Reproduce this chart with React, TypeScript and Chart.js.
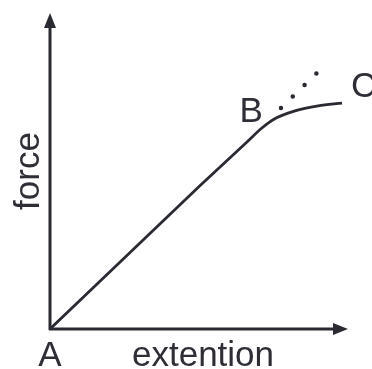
import React, { useEffect, useRef } from "react";
import { Chart, registerables } from "chart.js";

Chart.register(...registerables);

// force–extension curve (arbitrary units, 0–100 on each axis)
const extension = [0, 50.3, 66.1, 71.1, 75.0, 82.2, 90.0, 98.0];
const force = [0, 45.3, 59.2, 63.6, 66.3, 69.0, 70.6, 71.5];
// dotted continuation of the proportional (Hooke's law) region beyond B
const dottedExtension = [77.5, 89.9];
const dottedForce = [69.9, 81.3];
const pointLabels = ["A", "B", "C"];
const xTitle = "extention";
const yTitle = "force";

const INK = "#2a2a33";
const FONT = "'Liberation Sans', Arial, sans-serif";

const diagramPlugin = {
  id: "diagram",
  afterDatasetsDraw(chart: any) {
    const { ctx } = chart;
    const xs = chart.scales.x;
    const ys = chart.scales.y;
    const ox = xs.getPixelForValue(0);
    const oy = ys.getPixelForValue(0);
    const xEnd = xs.getPixelForValue(xs.max);
    const yEnd = ys.getPixelForValue(ys.max);
    ctx.save();
    ctx.strokeStyle = INK;
    ctx.fillStyle = INK;
    ctx.lineWidth = 3;
    ctx.lineCap = "butt";
    // axes
    ctx.beginPath();
    ctx.moveTo(ox, oy + 1);
    ctx.lineTo(ox, yEnd + 8);
    ctx.moveTo(ox - 1, oy);
    ctx.lineTo(xEnd - 8, oy);
    ctx.stroke();
    // arrow heads
    ctx.beginPath();
    ctx.moveTo(xEnd, oy);
    ctx.lineTo(xEnd - 15, oy - 6);
    ctx.lineTo(xEnd - 15, oy + 6);
    ctx.closePath();
    ctx.fill();
    ctx.beginPath();
    ctx.moveTo(ox, yEnd);
    ctx.lineTo(ox - 6, yEnd + 15);
    ctx.lineTo(ox + 6, yEnd + 15);
    ctx.closePath();
    ctx.fill();

    // text
    ctx.font = `35px ${FONT}`;
    ctx.textBaseline = "alphabetic";
    ctx.fillStyle = "#2e2e36";
    // A at origin
    ctx.textAlign = "center";
    ctx.fillText(pointLabels[0], ox, oy + 37);
    // x title
    ctx.fillText(xTitle, (ox + xEnd) / 2 + 4, oy + 37);
    // B at knee
    const bx = xs.getPixelForValue(extension[3]);
    const by = ys.getPixelForValue(force[3]);
    ctx.textAlign = "right";
    ctx.fillText(pointLabels[1], bx + 1, by - 6);
    // C at end
    const last = extension.length - 1;
    const cx = xs.getPixelForValue(extension[last]);
    const cy = ys.getPixelForValue(force[last]);
    ctx.textAlign = "left";
    ctx.fillText(pointLabels[2], cx + 9, cy - 6);
    // y title
    ctx.save();
    ctx.translate(ox - 11, (oy + yEnd) / 2);
    ctx.rotate(-Math.PI / 2);
    ctx.textAlign = "center";
    ctx.fillText(yTitle, 0, 0);
    ctx.restore();
    ctx.restore();
  },
};

export default function App() {
  const ref = useRef<HTMLCanvasElement | null>(null);
  useEffect(() => {
    if (!ref.current) return;
    const chart = new Chart(ref.current, {
      type: "scatter",
      data: {
        datasets: [
          {
            data: extension.map((x, i) => ({ x, y: force[i] })),
            showLine: true,
            borderColor: INK,
            borderWidth: 2.8,
            pointRadius: 0,
            cubicInterpolationMode: "monotone",
          },
          {
            data: dottedExtension.map((x, i) => ({ x, y: dottedForce[i] })),
            showLine: true,
            borderColor: INK,
            borderWidth: 4.5,
            borderDash: [0, 16.5],
            borderCapStyle: "round",
            pointRadius: 0,
          },
        ],
      },
      options: {
        animation: false,
        responsive: false,
        events: [],
        layout: { padding: { left: 50, right: 24, top: 13, bottom: 40 } },
        plugins: { legend: { display: false }, tooltip: { enabled: false } },
        scales: {
          x: { type: "linear", min: 0, max: 100, display: false },
          y: { type: "linear", min: 0, max: 100, display: false },
        },
      },
      plugins: [diagramPlugin],
    });
    return () => chart.destroy();
  }, []);
  return (
    <div style={{ position: "fixed", left: 0, top: 0, width: 372, height: 369, background: "#fff" }}>
      <canvas ref={ref} width={372} height={369} />
    </div>
  );
}
